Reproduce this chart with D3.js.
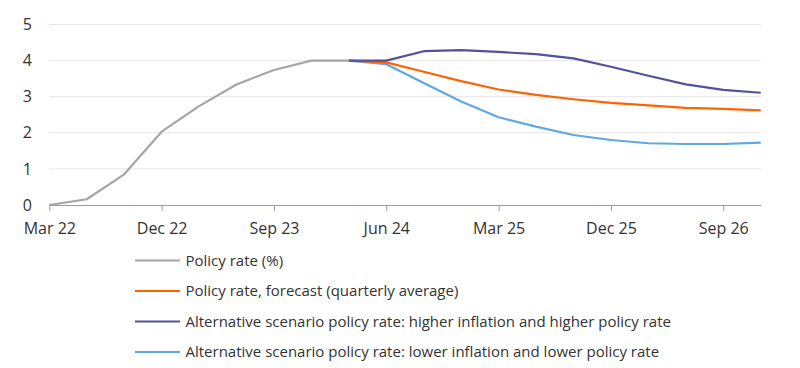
<!DOCTYPE html>
<html>
<head>
<meta charset="utf-8">
<script src="https://cdn.jsdelivr.net/npm/d3@7"></script>
<style>
  html, body { margin: 0; padding: 0; background: #fff; }
  svg { display: block; font-family: "Open Sans", "Noto Sans", sans-serif; }
</style>
</head>
<body>
<svg id="chart" width="800" height="368"></svg>
<script>
// Quarterly periods, Mar 22 .. Dec 26
const quarters = ["Mar 22","Jun 22","Sep 22","Dec 22","Mar 23","Jun 23","Sep 23","Dec 23",
  "Mar 24","Jun 24","Sep 24","Dec 24","Mar 25","Jun 25","Sep 25","Dec 25",
  "Mar 26","Jun 26","Sep 26","Dec 26"];
const tickLabels = ["Mar 22","Dec 22","Sep 23","Jun 24","Mar 25","Dec 25","Sep 26"];
const yTicks = [0, 1, 2, 3, 4, 5];

// Policy rate (%) actual: Mar 22 .. Mar 24
const policyRate = [0, 0.16, 0.85, 2.03, 2.74, 3.34, 3.74, 4.0, 4.0];
// Forecasts: Mar 24 .. Dec 26
const forecast = [4.0, 3.95, 3.69, 3.43, 3.2, 3.05, 2.93, 2.83, 2.76, 2.69, 2.66, 2.62];
const higherScenario = [4.0, 4.0, 4.26, 4.29, 4.24, 4.18, 4.06, 3.83, 3.58, 3.34, 3.19, 3.11];
const lowerScenario = [4.0, 3.9, 3.38, 2.87, 2.43, 2.17, 1.94, 1.8, 1.71, 1.69, 1.69, 1.73];

const seriesNames = [
  "Policy rate (%)",
  "Policy rate, forecast (quarterly average)",
  "Alternative scenario policy rate: higher inflation and higher policy rate",
  "Alternative scenario policy rate: lower inflation and lower policy rate"
];
const seriesColors = ["#A5A5A5", "#FF6200", "#525199", "#5FA8E0"];

const series = [
  { name: seriesNames[0], color: seriesColors[0], start: 0, values: policyRate },
  { name: seriesNames[1], color: seriesColors[1], start: 8, values: forecast },
  { name: seriesNames[2], color: seriesColors[2], start: 8, values: higherScenario },
  { name: seriesNames[3], color: seriesColors[3], start: 8, values: lowerScenario }
];

const svg = d3.select("#chart");
const x = d3.scalePoint().domain(quarters).range([49.3, 760.7]);
const y = d3.scaleLinear().domain([0, 5]).range([205, 24.5]);

// gridlines
svg.append("g").selectAll("line")
  .data(yTicks.filter(d => d > 0))
  .join("line")
  .attr("x1", x.range()[0]).attr("x2", x.range()[1])
  .attr("y1", d => y(d)).attr("y2", d => y(d))
  .attr("stroke", "#E6E6E6").attr("stroke-width", 1);

// y axis labels
const yAxis = d3.axisLeft(y).tickValues(yTicks).tickSize(0).tickPadding(0).tickFormat(d3.format("d"));
const gy = svg.append("g").attr("transform", "translate(32,0)").call(yAxis);
gy.select(".domain").remove();
gy.selectAll("text").attr("font-size", 16).attr("fill", "#333")
  .attr("font-family", "'Open Sans', sans-serif");

// x axis
const xAxis = d3.axisBottom(x).tickValues(tickLabels).tickSize(6).tickPadding(12).tickSizeOuter(0);
const gx = svg.append("g").attr("transform", `translate(0,${y(0)})`).call(xAxis);
gx.select(".domain").attr("stroke", "#9A9A9A");
gx.selectAll(".tick line").attr("stroke", "#9A9A9A");
gx.selectAll("text").attr("font-size", 16).attr("fill", "#333")
  .attr("font-family", "'Open Sans', sans-serif");

// lines
const line = d3.line()
  .x(d => x(d.q))
  .y(d => y(d.v));

series.forEach(s => {
  s.pts = s.values.map((v, i) => ({ q: quarters[s.start + i], v }));
});
[series[0], series[3], series[1], series[2]].forEach(s => {
  svg.append("path")
    .datum(s.pts)
    .attr("fill", "none")
    .attr("stroke", s.color)
    .attr("stroke-width", 2.2)
    .attr("stroke-linejoin", "round")
    .attr("d", line);
});

// legend
const legend = svg.append("g");
const rowY = [260.5, 291, 321.5, 352];
series.forEach((s, i) => {
  const g = legend.append("g").attr("transform", `translate(0,${rowY[i]})`);
  g.append("line").attr("x1", 135).attr("x2", 180).attr("y1", 0).attr("y2", 0)
    .attr("stroke", s.color).attr("stroke-width", 2.2);
  g.append("text").attr("x", 185.5).attr("y", 0).attr("dy", "0.35em")
    .attr("font-size", 15).attr("fill", "#333").text(s.name);
});
</script>
</body>
</html>
